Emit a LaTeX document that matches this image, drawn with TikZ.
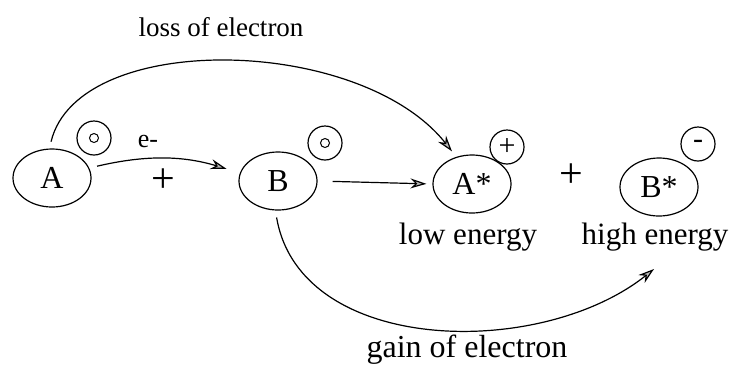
\documentclass[tikz,border=0pt]{standalone}
\usepackage{fontspec}
\setmainfont{Liberation Serif}
\usetikzlibrary{arrows.meta,positioning,shapes.geometric}
\tikzset{
  atom/.style={ellipse,draw,line width=1.2pt,minimum width=78pt,minimum height=58pt,inner sep=0pt,font=\fontsize{32}{36}\selectfont},
  charge/.style={circle,draw,line width=1.2pt,minimum size=34pt,inner sep=0pt,font=\fontsize{30}{32}\selectfont},
  neutral/.style={charge,path picture={\draw[line width=1pt] (path picture bounding box.center) circle (4.5pt);}},
  lbl/.style={inner sep=0pt,font=\fontsize{31}{36}\selectfont},
  plus/.style={lbl,font=\fontsize{42}{44}\selectfont},
  ar/.style={-{Stealth[length=16pt,width=10pt,fill=gray!55]},draw=black,line width=1.2pt},
}
\begin{document}
\begin{tikzpicture}[x=1pt,y=-1pt]
  \useasboundingbox (0,0) rectangle (735,365);
  % reactants
  \node[atom] (A) at (52,178) {A};
  \node[neutral] (cA) at (94,138) {};
  \node[atom] (B) at (278,181) {B};
  \node[neutral] (cB) at (325,143) {};
  \node[plus] (p1) at (163,181) {+};
  \node[lbl,font=\fontsize{26}{28}\selectfont] (e) at (148,141) {e-};
  % products
  \node[atom] (As) at (472,184) {A*};
  \node[charge] (cAs) at (507,147) {+};
  \node[atom] (Bs) at (659,187) {B*};
  \node[charge] (cBs) at (698,144) {-};
  \node[plus] (p2) at (571,176) {+};
  \node[lbl] (lo) at (468,237) {low energy};
  \node[lbl] (hi) at (655,237) {high energy};
  % arcs
  \node[lbl,font=\fontsize{27}{30}\selectfont] (loss) at (221,27) {loss of electron};
  \node[lbl,font=\fontsize{32}{36}\selectfont] (gain) at (467,350) {gain of electron};
  \coordinate (gtip) at (654,269);
  \draw[ar,shorten <=8pt,shorten >=14pt] (A.15) to[bend left=15] (B.168);
  \draw[ar,shorten <=15pt,shorten >=6pt] (B.east) -- (As.west);
  \draw[ar,shorten <=7pt,shorten >=7pt] (A.95) .. controls (78,30) and (360,35) .. (As.120);
  \draw[ar,shorten <=7pt] (B.265) .. controls (300,355) and (540,360) .. (gtip);
\end{tikzpicture}
\end{document}
